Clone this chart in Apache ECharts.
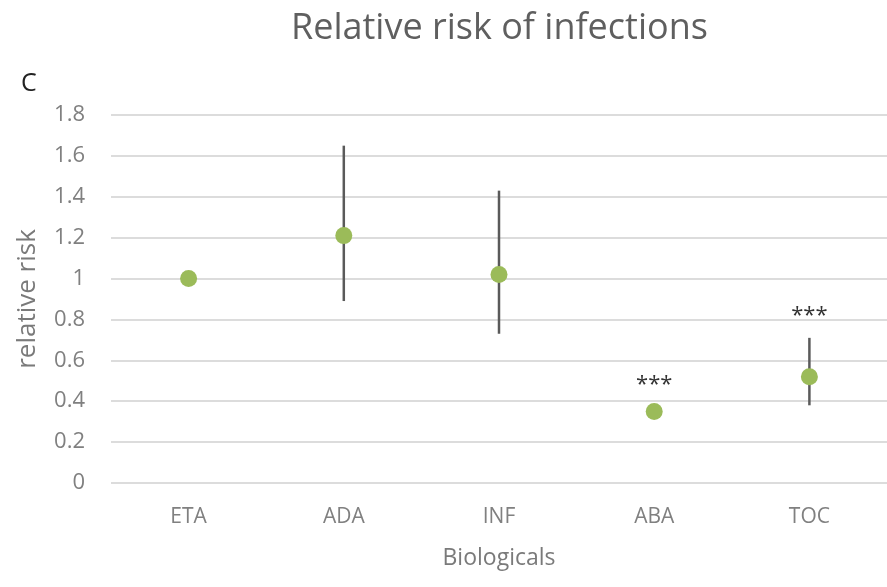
<!DOCTYPE html>
<html><head><meta charset="utf-8">
<script src="https://cdn.jsdelivr.net/npm/echarts@6/dist/echarts.min.js"></script>
<style>html,body{margin:0;padding:0;background:#fff}#c{width:887px;height:587px}</style>
</head><body><div id="c"></div>
<script>
const categories = ['ETA', 'ADA', 'INF', 'ABA', 'TOC'];
const riskValues = [1.0, 1.21, 1.02, 0.35, 0.52];
const ciLow = [null, 0.89, 0.73, null, 0.38];
const ciHigh = [null, 1.65, 1.43, null, 0.71];
const significance = ['', '', '', '***', '***'];
const yTicks = [0, 0.2, 0.4, 0.6, 0.8, 1, 1.2, 1.4, 1.6, 1.8];

const chart = echarts.init(document.getElementById('c'));
const font = '"Open Sans", "Liberation Sans", sans-serif';
chart.setOption({
  animation: false,
  title: [
    {text: 'Relative risk of infections', left: 286, top: 6,
     textStyle: {fontFamily: font, fontSize: 36, fontWeight: 'normal', color: '#5f5f5f'}},
    {text: 'C', left: 16, top: 66,
     textStyle: {fontFamily: font, fontSize: 25, fontWeight: 'normal', color: '#222'}}
  ],
  grid: {left: 111, right: -9, top: 115, bottom: 104},
  xAxis: {
    type: 'category', data: categories,
    axisLine: {show: false}, axisTick: {show: false},
    axisLabel: {fontFamily: font, fontSize: 21, color: '#808080', margin: 24},
    name: 'Biologicals', nameLocation: 'middle', nameGap: 64,
    nameTextStyle: {fontFamily: font, fontSize: 23, color: '#7a7a7a'}
  },
  yAxis: {
    type: 'value', min: 0, max: 1.8, interval: 0.2,
    axisLine: {show: false}, axisTick: {show: false},
    splitLine: {lineStyle: {color: '#dcdcdc', width: 2}},
    axisLabel: {fontFamily: font, fontSize: 22, color: '#808080', margin: 26,
      formatter: v => { const t = yTicks.find(x => Math.abs(x - v) < 1e-6); return String(Math.round((t ?? v) * 10) / 10); }},
    name: 'relative risk', nameLocation: 'middle', nameGap: 70, nameRotate: 90,
    nameTextStyle: {fontFamily: font, fontSize: 26, color: '#7a7a7a'}
  },
  series: [
    {
      type: 'custom',
      data: categories.map((c, i) => [i, ciLow[i], ciHigh[i], riskValues[i]]),
      renderItem: function (params, api) {
        const i = api.value(0);
        const lo = api.value(1), hi = api.value(2), v = api.value(3);
        const children = [];
        const hasBar = lo != null && !isNaN(lo) && hi != null && !isNaN(hi);
        if (hasBar) {
          const p1 = api.coord([i, lo]), p2 = api.coord([i, hi]);
          children.push({type: 'line', shape: {x1: p1[0], y1: p1[1], x2: p2[0], y2: p2[1]},
            style: {stroke: '#5a5a5a', lineWidth: 2.5}});
        }
        const s = significance[i];
        if (s) {
          const pt = api.coord([i, hasBar ? hi : v]);
          children.push({type: 'text', x: pt[0], y: pt[1] - (hasBar ? 22 : 27),
            style: {text: s, fontSize: 22, fontFamily: font, fill: '#333', align: 'center', verticalAlign: 'middle'}});
        }
        return {type: 'group', children: children};
      },
      z: 2
    },
    {
      type: 'scatter',
      data: riskValues,
      symbolSize: 17,
      itemStyle: {color: '#9bbb59', opacity: 1},
      z: 3
    }
  ]
});
</script></body></html>
